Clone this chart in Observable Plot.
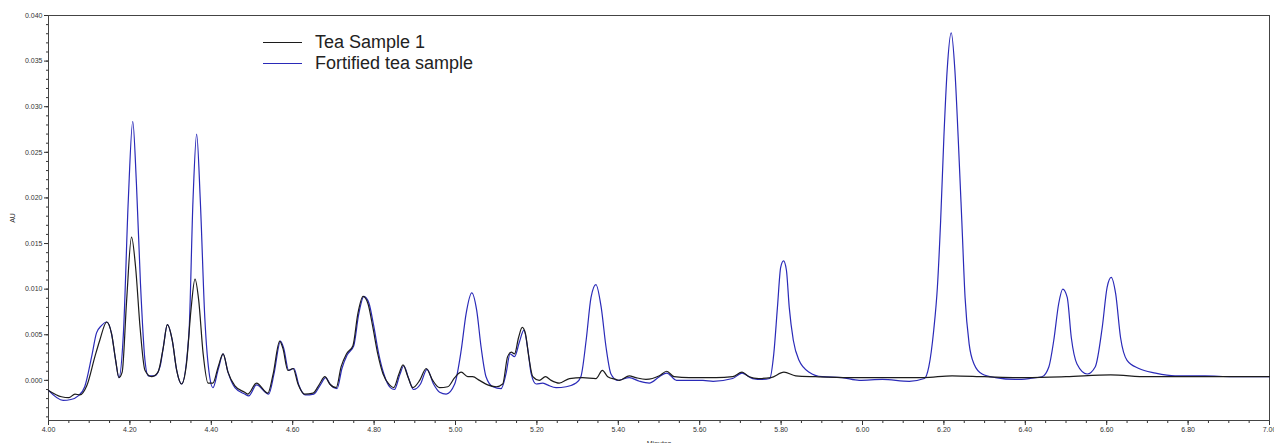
<!DOCTYPE html>
<html>
<head>
<meta charset="utf-8">
<script src="https://cdn.jsdelivr.net/npm/d3@7"></script>
<script src="https://cdn.jsdelivr.net/npm/@observablehq/plot@0.6"></script>
<style>
  html, body { margin: 0; padding: 0; background: #fff; }
  #wrap { position: relative; width: 1274px; height: 443px; overflow: hidden; }
  .leg { position: absolute; left: 263px; height: 22px; display: flex; align-items: center;
         font-family: "Liberation Sans", Arial, sans-serif; font-size: 18px; color: #222; white-space: nowrap; }
  .leg .sw { display: inline-block; width: 39px; height: 0; border-top: 1.3px solid; margin-right: 13px; }
</style>
</head>
<body>
<div id="wrap"></div>
<script>
// ---- Data ----
const seriesNames = ["Tea Sample 1", "Fortified tea sample"];
const seriesColors = ["#1c1c1c", "#2a2ab8"];

const teaTime = [4.000,4.032,4.050,4.065,4.077,4.094,4.114,4.126,4.143,4.155,4.165,4.173,4.181,4.192,4.204,4.214,4.225,4.237,4.253,4.269,4.282,4.292,4.304,4.315,4.327,4.339,4.350,4.360,4.369,4.380,4.392,4.404,4.417,4.429,4.441,4.458,4.482,4.490,4.511,4.539,4.552,4.568,4.576,4.588,4.601,4.613,4.629,4.650,4.666,4.679,4.691,4.707,4.719,4.732,4.748,4.760,4.773,4.785,4.797,4.809,4.822,4.838,4.848,4.861,4.871,4.883,4.895,4.912,4.928,4.944,4.961,4.981,4.998,5.014,5.030,5.042,5.059,5.079,5.100,5.116,5.128,5.137,5.145,5.155,5.164,5.172,5.180,5.190,5.206,5.221,5.235,5.255,5.280,5.312,5.345,5.361,5.374,5.394,5.403,5.427,5.443,5.468,5.501,5.519,5.537,5.574,5.640,5.681,5.704,5.721,5.745,5.775,5.807,5.836,5.885,5.967,6.050,6.150,6.220,6.300,6.400,6.500,6.610,6.700,6.800,6.900,7.000];
const teaAU = [-0.0011,-0.0018,-0.0019,-0.0015,-0.0016,-0.0006,0.0026,0.0044,0.0064,0.0051,0.0022,0.0003,0.0009,0.0088,0.0157,0.0124,0.0058,0.0011,0.0004,0.0009,0.0036,0.0061,0.0044,0.0011,-0.0004,0.0018,0.0077,0.0111,0.0088,0.0029,-0.0003,-0.0003,0.0015,0.0029,0.0009,-0.0006,-0.0013,-0.0015,-0.0003,-0.0014,0.0007,0.0043,0.0035,0.0011,0.0013,-0.0004,-0.0015,-0.0014,-0.0004,0.0004,-0.0004,-0.0008,0.0015,0.0029,0.0038,0.0073,0.0092,0.0084,0.0058,0.0029,0.0007,-0.0005,-0.0008,0.0007,0.0017,0.0004,-0.0008,0.0000,0.0013,0.0000,-0.0008,-0.0007,0.0003,0.0009,0.0004,0.0004,0.0000,-0.0005,-0.0007,-0.0004,0.0026,0.0031,0.0029,0.0047,0.0058,0.0051,0.0026,0.0004,0.0000,0.0004,0.0000,-0.0003,0.0002,0.0003,0.0002,0.0011,0.0004,0.0001,0.0000,0.0005,0.0003,0.0001,0.0005,0.0010,0.0004,0.0003,0.0003,0.0004,0.0009,0.0004,0.0002,0.0003,0.0009,0.0005,0.0004,0.0003,0.0003,0.0003,0.0005,0.0004,0.0003,0.0004,0.0006,0.0004,0.0004,0.0004,0.0004];

const fortTime = [4.000,4.036,4.055,4.073,4.089,4.106,4.118,4.130,4.143,4.155,4.165,4.173,4.184,4.196,4.207,4.216,4.226,4.237,4.245,4.261,4.274,4.282,4.292,4.304,4.315,4.327,4.345,4.355,4.364,4.373,4.384,4.396,4.404,4.417,4.429,4.441,4.458,4.482,4.492,4.511,4.541,4.554,4.570,4.578,4.590,4.603,4.615,4.631,4.652,4.668,4.681,4.693,4.709,4.721,4.734,4.750,4.762,4.775,4.787,4.799,4.811,4.824,4.840,4.850,4.863,4.873,4.885,4.897,4.914,4.930,4.946,4.961,4.977,4.998,5.014,5.026,5.040,5.052,5.063,5.075,5.092,5.112,5.124,5.134,5.145,5.157,5.168,5.178,5.186,5.198,5.214,5.226,5.247,5.272,5.296,5.308,5.321,5.333,5.345,5.358,5.370,5.382,5.398,5.427,5.452,5.476,5.501,5.519,5.543,5.608,5.633,5.681,5.704,5.730,5.754,5.772,5.782,5.791,5.799,5.806,5.813,5.820,5.830,5.844,5.869,5.901,5.950,5.992,6.049,6.115,6.152,6.163,6.175,6.184,6.192,6.200,6.208,6.218,6.227,6.235,6.244,6.252,6.262,6.274,6.294,6.327,6.376,6.409,6.441,6.458,6.470,6.482,6.492,6.503,6.513,6.527,6.552,6.572,6.589,6.601,6.611,6.622,6.634,6.650,6.679,6.720,6.768,6.842,6.908,7.000];
const fortAU = [-0.0011,-0.0022,-0.0021,-0.0017,-0.0007,0.0026,0.0052,0.0060,0.0064,0.0051,0.0022,0.0003,0.0051,0.0197,0.0284,0.0216,0.0106,0.0022,0.0005,0.0005,0.0015,0.0036,0.0061,0.0044,0.0011,-0.0004,0.0051,0.0197,0.0270,0.0197,0.0069,0.0004,-0.0008,0.0012,0.0029,0.0009,-0.0008,-0.0015,-0.0017,-0.0005,-0.0015,0.0007,0.0043,0.0035,0.0011,0.0013,-0.0005,-0.0016,-0.0015,-0.0005,0.0003,-0.0005,-0.0009,0.0013,0.0028,0.0038,0.0072,0.0092,0.0085,0.0060,0.0030,0.0007,-0.0008,-0.0010,0.0006,0.0016,0.0002,-0.0010,-0.0004,0.0012,-0.0004,-0.0013,-0.0015,-0.0004,0.0033,0.0073,0.0096,0.0077,0.0036,0.0004,-0.0007,-0.0009,0.0007,0.0029,0.0026,0.0042,0.0055,0.0033,0.0007,-0.0004,-0.0003,-0.0005,-0.0008,-0.0007,-0.0003,0.0004,0.0044,0.0091,0.0105,0.0080,0.0036,0.0007,0.0000,0.0003,-0.0001,-0.0003,0.0004,0.0008,0.0000,0.0000,-0.0001,0.0002,0.0008,0.0002,0.0001,0.0002,0.0029,0.0080,0.0124,0.0131,0.0121,0.0080,0.0044,0.0022,0.0009,0.0004,0.0003,0.0000,0.0001,-0.0001,0.0002,0.0015,0.0055,0.0102,0.0175,0.0267,0.0340,0.0381,0.0340,0.0267,0.0175,0.0091,0.0040,0.0018,0.0007,0.0003,0.0001,0.0002,0.0004,0.0015,0.0044,0.0084,0.0100,0.0091,0.0047,0.0018,0.0007,0.0015,0.0058,0.0102,0.0113,0.0095,0.0047,0.0022,0.0013,0.0008,0.0005,0.0005,0.0004,0.0004];

const xTicks = [4.0,4.2,4.4,4.6,4.8,5.0,5.2,5.4,5.6,5.8,6.0,6.2,6.4,6.6,6.8,7.0];
const yTicks = [0,0.005,0.010,0.015,0.020,0.025,0.030,0.035,0.040];
const xMinorStep = 0.05;
const yMinorStep = 0.001;

// ---- Build table ----
const rows = [
  ...fortTime.map((t, i) => ({t, v: fortAU[i], s: seriesNames[1]})),
  ...teaTime.map((t, i) => ({t, v: teaAU[i], s: seriesNames[0]}))
];
const xMinor = d3.range(4, 7.0001, xMinorStep).map(d => +d.toFixed(3));
const yMinor = d3.range(-0.004, 0.04001, yMinorStep).map(d => +d.toFixed(4));

const chart = Plot.plot({
  width: 1274,
  height: 443,
  marginLeft: 48,
  marginRight: 5,
  marginTop: 15,
  marginBottom: 23,
  style: {fontFamily: "'Liberation Sans', Arial, sans-serif", fontSize: "7px", color: "#333", background: "#fff"},
  x: {domain: [4, 7]},
  y: {domain: [-0.0044, 0.040]},
  color: {domain: seriesNames, range: seriesColors},
  marks: [
    Plot.axisY(yMinor, {tickSize: 2, tickFormat: () => "", label: null}),
    Plot.axisY(yTicks, {tickSize: 4, tickPadding: 2, tickFormat: d3.format(".3f"), label: "AU", labelAnchor: "center", labelArrow: "none", labelOffset: 38}),
    Plot.axisX(xMinor, {tickSize: 3, tickFormat: () => "", label: null}),
    Plot.axisX(xTicks, {tickSize: 5, tickPadding: 2, tickFormat: d3.format(".2f"), label: "Minutes", labelAnchor: "center", labelArrow: "none", labelOffset: 25}),
    Plot.frame({stroke: "#444"}),
    Plot.line(rows, {x: "t", y: "v", z: "s", stroke: "s", curve: "monotone-x", strokeWidth: 1.2})
  ]
});

const wrap = document.getElementById("wrap");
wrap.appendChild(chart);

// Legend (HTML overlay)
const legendTops = [31.5, 52];
seriesNames.forEach((name, i) => {
  const row = document.createElement("div");
  row.className = "leg";
  row.style.top = legendTops[i] + "px";
  const sw = document.createElement("span");
  sw.className = "sw";
  sw.style.borderTopColor = seriesColors[i];
  row.appendChild(sw);
  row.appendChild(document.createTextNode(name));
  wrap.appendChild(row);
});
</script>
</body>
</html>
